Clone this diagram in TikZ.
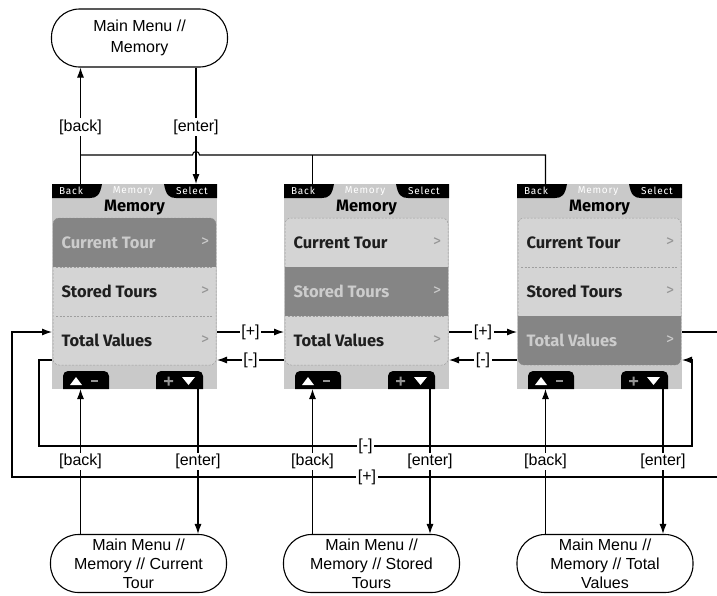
\documentclass[tikz,border=0pt]{standalone}
\usepackage{fontspec}
\setmainfont{Liberation Sans}
\newfontfamily\scrfont{Fira Sans}
\usetikzlibrary{arrows.meta,calc,positioning}

\definecolor{scrbg}{gray}{0.79}
\definecolor{rowbg}{gray}{0.83}
\definecolor{selbg}{gray}{0.52}
\definecolor{seltext}{gray}{0.80}
\definecolor{chevgray}{gray}{0.58}

% handheld screen: #1 = name, #2 = left edge, #3 = highlighted row
\newcommand{\handset}[3]{%
  \begin{scope}[shift={(#2,0)}]
    \fill[scrbg] (0,184) rectangle (165,389);
    % title bar
    \fill[black] (0,184) -- (50,184) .. controls (48,195) and (45,198) .. (38,198) -- (0,198) -- cycle;
    \fill[black] (165,184) -- (112,184) .. controls (114,195) and (117,198) .. (124,198) -- (165,198) -- cycle;
    \node[barfont, text=white] (#1-back) at (19,191) {Back};
    \node[barfont, text=white] (#1-mid) at (81,191) {Memory};
    \node[barfont, text=white] (#1-sel) at (140,191) {Select};
    \node[ttlfont] (#1-ttl) at (82.5,208) {Memory};
    % menu rows
    \filldraw[fill=rowbg, dashsep, rounded corners=6pt] (1,218) rectangle (164,365);
    \draw[dashsep] (4,267) -- (161,267) (4,316) -- (161,316);
    \begin{scope}
      \clip[rounded corners=6pt] (1,218) rectangle (164,365);
      \fill[selbg] (1,{169+#3*49}) rectangle (164,{218+#3*49});
    \end{scope}
    \foreach \t [count=\i] in {Current Tour, Stored Tours, Total Values} {
      \ifnum\i=#3 \def\rowcol{seltext}\def\chcol{seltext}\else\def\rowcol{black!88}\def\chcol{chevgray}\fi
      \node[rowfont, text=\rowcol, anchor=west] (#1-r\i) at (9,{193.5+\i*49}) {\t};
      \node[rowfont, font=\scrfont\fontsize{16}{18}\selectfont, text=\chcol] (#1-c\i) at (153,{193.5+\i*49}) {>};
    }
    % softkeys
    \fill[black, rounded corners=5pt] (11,389) -- (11,371) -- (57,371) -- (57,389);
    \fill[black, rounded corners=5pt] (104,389) -- (104,371) -- (151,371) -- (151,389);
    \fill[white] (18,385) -- (30,385) -- (24,377) -- cycle;
    \fill[chevgray] (39,380) rectangle (46,382);
    \fill[chevgray] (112,380) rectangle (121,382) (115.5,376.5) rectangle (117.5,385.5);
    \fill[white] (130,377) -- (143,377) -- (136.5,385) -- cycle;
    % hook points
    \coordinate (#1-tb) at (28.5,184);
    \coordinate (#1-te) at (144,184);
    \coordinate (#1-bb) at (28.5,389);
    \coordinate (#1-be) at (146,389);
    \coordinate (#1-pl) at (0,332);
    \coordinate (#1-ml) at (0,360);
    \coordinate (#1-pr) at (165,332);
    \coordinate (#1-mr) at (165,360);
  \end{scope}}

\begin{document}
\begin{tikzpicture}[x=1pt, y=-1pt, line width=1.1pt, >={Latex[length=10pt,width=7pt]},
  term/.style={draw, rounded corners=28pt, minimum width=176pt, minimum height=58pt,
               inner sep=0pt, align=center, font=\fontsize{16}{19}\selectfont},
  lbl/.style={fill=white, inner sep=1.5pt, font=\fontsize{16}{19}\selectfont},
  barfont/.style={inner sep=0pt, font=\scrfont\fontsize{10}{11}\selectfont\addfontfeatures{LetterSpace=8}},
  ttlfont/.style={inner sep=0pt, font=\scrfont\bfseries\fontsize{16.5}{18}\selectfont},
  rowfont/.style={inner sep=0pt, font=\scrfont\bfseries\fontsize{16.5}{18}\selectfont},
  dashsep/.style={draw=black!38, line width=0.5pt, dash pattern=on 2pt off 1.5pt},
]
\useasboundingbox (0,0) rectangle (717,595);

\node[term, font=\fontsize{16}{21}\selectfont] (top) at (139.5,38) {Main Menu //\\Memory};

\handset{s1}{52}{1}
\handset{s2}{284}{2}
\handset{s3}{517}{3}

\node[term] (cur) at (138.5,563.5) {Main Menu //\\Memory // Current\\Tour};
\node[term] (sto) at (371.5,563.5) {Main Menu //\\Memory // Stored\\Tours};
\node[term] (tot) at (605,563.5) {Main Menu //\\Memory // Total\\Values};

% back / enter to the main menu
\coordinate (jn) at (80.5,155);
\coordinate (hop) at (199.5,155);
\draw[->] (s1-tb) -- (s1-tb |- top.south) node[lbl, pos=.49] {[back]};
\draw[->] (top.south -| s1-te) -- (s1-te) node[lbl, pos=.51] {[enter]};
\draw (s3-tb) |- (hop) arc[start angle=0, end angle=-180, radius=3.5] -- (jn);
\draw (s2-tb) -- (s2-tb |- jn);

% scrolling between the screens
\draw[->] (s1-pr) -- (s2-pl) node[lbl, midway] {[+]};
\draw[->] (s2-ml) -- (s1-mr) node[lbl, midway] {[-]};
\draw[->] (s2-pr) -- (s3-pl) node[lbl, midway] {[+]};
\draw[->] (s3-ml) -- (s2-mr) node[lbl, midway] {[-]};

\coordinate (pr) at (722,477);
\coordinate (pl) at (12,477);
\coordinate (ml) at (39,446);
\coordinate (mr) at (692,446);
\draw[->] (s3-pr) -| (pr) -- (pl) node[lbl, midway] {[+]} |- (s1-pl);
\draw[->] (s1-ml) -| (ml) -- (mr) node[lbl, midway] {[-]} |- (s3-mr);

% into the sub menus
\draw[->] (cur.north -| s1-bb) -- (s1-bb) node[lbl, midway] {[back]};
\draw[->] (s1-be) -- (s1-be |- cur.north) node[lbl, midway] {[enter]};
\draw[->] (sto.north -| s2-bb) -- (s2-bb) node[lbl, midway] {[back]};
\draw[->] (s2-be) -- (s2-be |- sto.north) node[lbl, midway] {[enter]};
\draw[->] (tot.north -| s3-bb) -- (s3-bb) node[lbl, midway] {[back]};
\draw[->] (s3-be) -- (s3-be |- tot.north) node[lbl, midway] {[enter]};
\end{tikzpicture}
\end{document}
